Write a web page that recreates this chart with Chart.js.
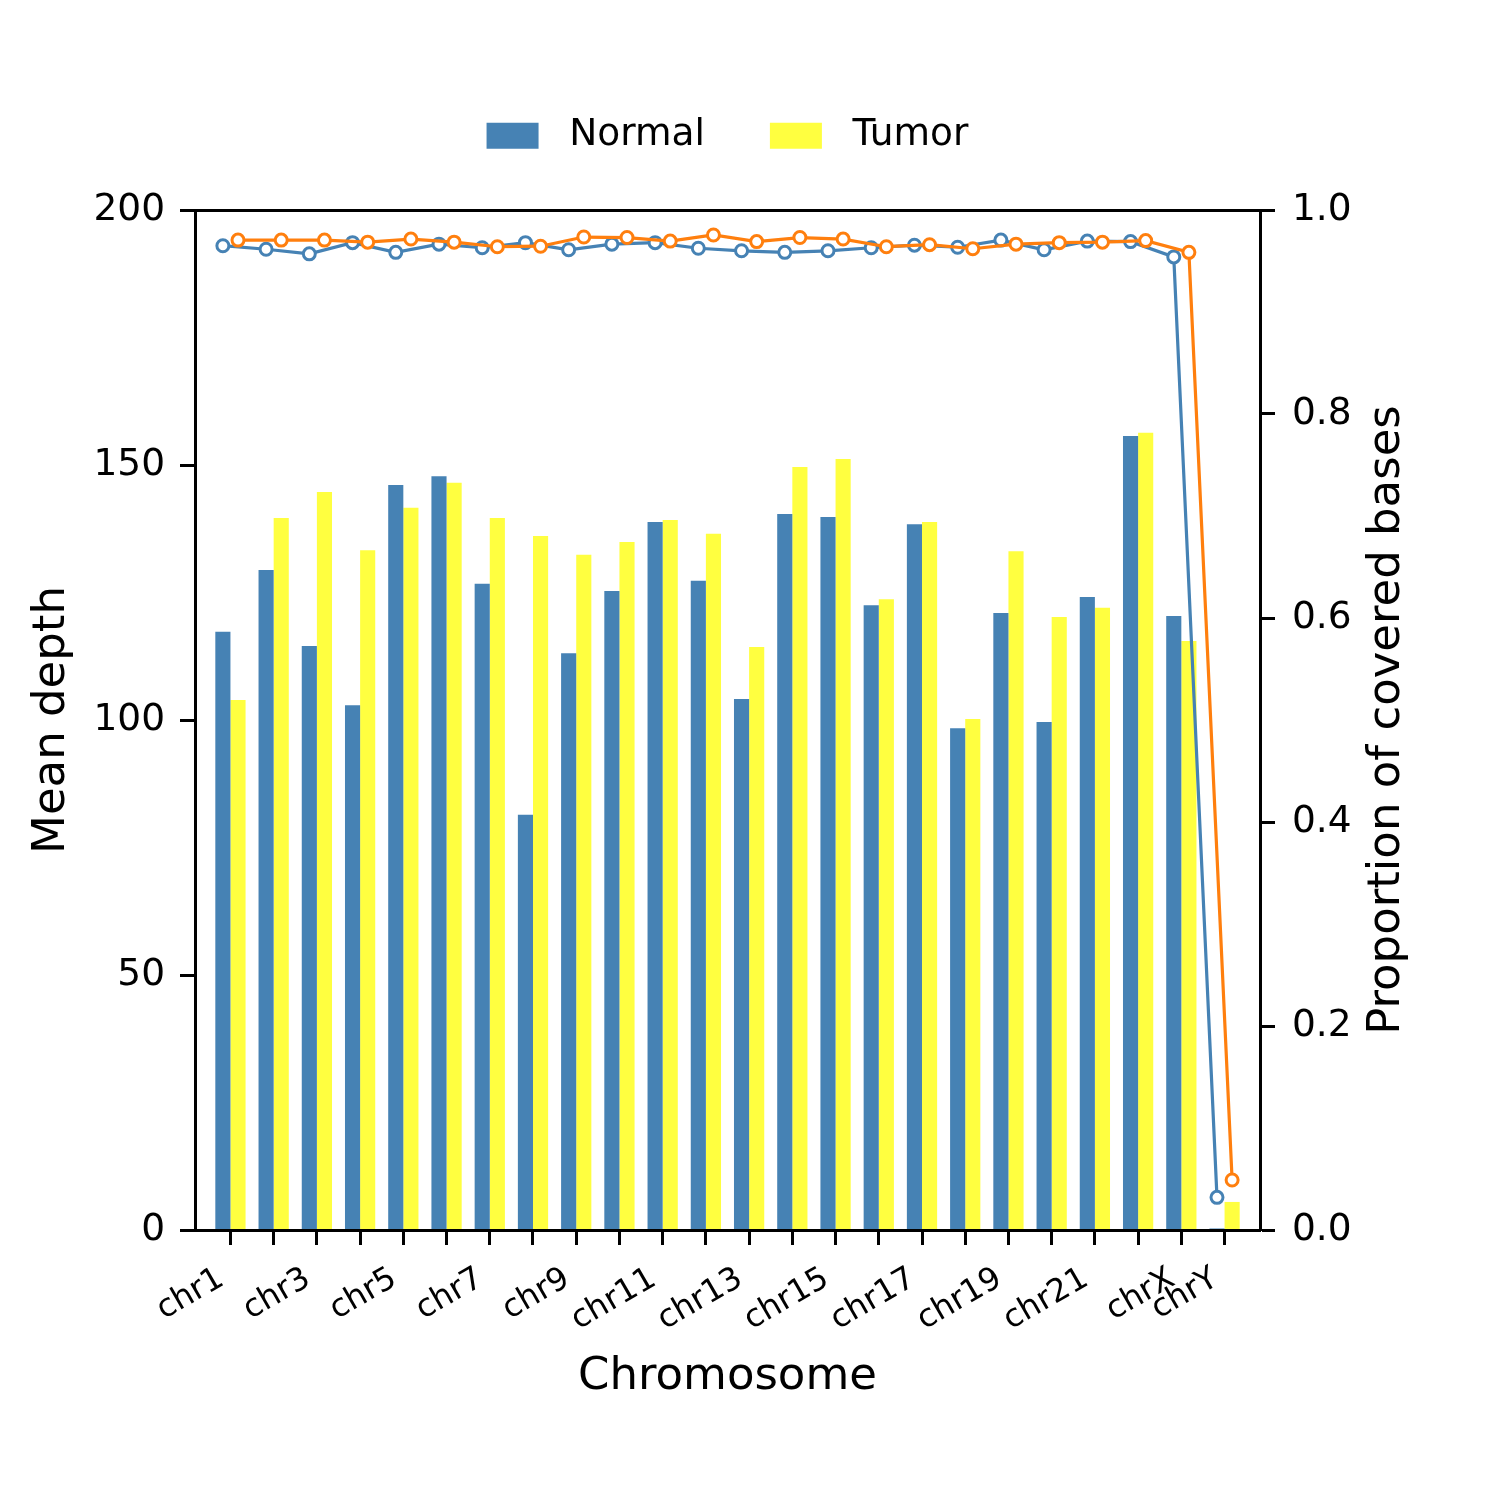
<!DOCTYPE html>
<html>
<head>
<meta charset="utf-8">
<script src="https://cdn.jsdelivr.net/npm/chart.js@4.4.1/dist/chart.umd.min.js"></script>
<style>
  html, body { margin: 0; padding: 0; background: #fff; }
  #wrap { width: 1500px; height: 1500px; }
</style>
</head>
<body>
<div id="wrap"><canvas id="depthChart" width="1500" height="1500"></canvas></div>
<script>
// chromosome names, one group of bars per entry
var chromosomes = ['chr1', 'chr2', 'chr3', 'chr4', 'chr5', 'chr6', 'chr7', 'chr8', 'chr9', 'chr10',
  'chr11', 'chr12', 'chr13', 'chr14', 'chr15', 'chr16', 'chr17', 'chr18', 'chr19', 'chr20',
  'chr21', 'chr22', 'chrX', 'chrY'];

// mean depth (left axis)
var normalDepth = [117.3, 129.4, 114.5, 102.9, 146.1, 147.8, 126.7, 81.4, 113.1, 125.3,
  138.8, 127.3, 104.1, 140.4, 139.8, 122.5, 138.4, 98.4, 121.0, 99.6,
  124.1, 155.7, 120.4, 0.3];
var tumorDepth = [103.9, 139.6, 144.7, 133.3, 141.6, 146.5, 139.6, 136.1, 132.4, 134.9,
  139.2, 136.5, 114.3, 149.6, 151.2, 123.7, 138.8, 100.2, 133.1, 120.2,
  122.0, 156.3, 115.5, 5.5];

// proportion of covered bases (right axis)
var normalCoverage = [0.965, 0.9615, 0.957, 0.968, 0.9585, 0.9665, 0.963, 0.968, 0.961, 0.9665,
  0.968, 0.9625, 0.960, 0.9585, 0.960, 0.963, 0.9655, 0.9635, 0.9705, 0.961,
  0.9695, 0.969, 0.954, 0.032];
var tumorCoverage = [0.9705, 0.9705, 0.9705, 0.9685, 0.9715, 0.9685, 0.964, 0.9645, 0.9735, 0.973,
  0.9695, 0.9755, 0.969, 0.973, 0.9715, 0.964, 0.966, 0.962, 0.9665, 0.968,
  0.9685, 0.97, 0.9585, 0.049];

var depthTicks = [0, 50, 100, 150, 200];
var coverageTicks = [0, 0.2, 0.4, 0.6, 0.8, 1.0];

var BLUE = '#4682b4';
var YELLOW = '#ffff40';
var ORANGE = '#ff7f0e';

Chart.defaults.font.family = "'DejaVu Sans', sans-serif";
Chart.defaults.color = '#000';

var tickFont = { size: 37.5 };
var xTickFont = { size: 32 };
var titleFont = { size: 45, lineHeight: 1 };
var topPad = 52;

// line points sit over the middle of their own bar
var barHalf = 0.175;

function toPoints(values, shift) {
  return values.map(function (v, i) { return { x: i + shift, y: v }; });
}

// right axis title reads bottom-to-top like the left one
var rightTitle = {
  id: 'rightTitle',
  afterDraw: function (chart) {
    var area = chart.chartArea;
    var ctx = chart.ctx;
    ctx.save();
    ctx.font = "45px 'DejaVu Sans'";
    ctx.fillStyle = '#000';
    ctx.textAlign = 'center';
    ctx.textBaseline = 'middle';
    ctx.translate(chart.scales.y1.right - 113, (area.top + area.bottom) / 2);
    ctx.rotate(-Math.PI / 2);
    ctx.fillText('Proportion of covered bases', 0, 0);
    ctx.restore();
  }
};

var tickGrid = { display: true, offset: false, drawOnChartArea: false, drawTicks: true, tickLength: 15, tickWidth: 3, tickColor: '#000' };
var axisBorder = { display: true, color: '#000', width: 3, z: 1 };

var config = {
  type: 'bar',
  data: {
    datasets: [{
      type: 'bar',
      label: 'Normal',
      data: toPoints(normalDepth, 0),
      backgroundColor: BLUE,
      borderWidth: 0,
      xAxisID: 'x',
      yAxisID: 'y',
      barPercentage: 1.0,
      categoryPercentage: 0.7,
      order: 3
    }, {
      type: 'bar',
      label: 'Tumor',
      data: toPoints(tumorDepth, 0),
      backgroundColor: YELLOW,
      borderWidth: 0,
      xAxisID: 'x',
      yAxisID: 'y',
      barPercentage: 1.0,
      categoryPercentage: 0.7,
      order: 3
    }, {
      type: 'line',
      label: 'Normal coverage',
      data: toPoints(normalCoverage, -barHalf),
      borderColor: BLUE,
      borderWidth: 3.2,
      pointRadius: 6,
      pointBorderWidth: 3,
      pointBackgroundColor: '#fff',
      pointBorderColor: BLUE,
      tension: 0,
      fill: false,
      xAxisID: 'x',
      yAxisID: 'y1',
      order: 1
    }, {
      type: 'line',
      label: 'Tumor coverage',
      data: toPoints(tumorCoverage, barHalf),
      borderColor: ORANGE,
      borderWidth: 3.2,
      pointRadius: 6,
      pointBorderWidth: 3,
      pointBackgroundColor: '#fff',
      pointBorderColor: ORANGE,
      tension: 0,
      fill: false,
      xAxisID: 'x',
      yAxisID: 'y1',
      order: 0
    }]
  },
  options: {
    responsive: false,
    animation: false,
    devicePixelRatio: 1,
    layout: { padding: { top: topPad, left: 0, right: 0, bottom: 0 } },
    plugins: {
      tooltip: { enabled: false },
      legend: {
        position: 'top',
        fullSize: false,
        labels: {
          boxWidth: 52,
          boxHeight: 26,
          padding: 65,
          font: { size: 37.5 },
          color: '#000',
          filter: function (item) { return item.datasetIndex < 2; },
          generateLabels: function (chart) {
            // a little more room between the swatch and its name
            return Chart.defaults.plugins.legend.labels.generateLabels(chart).map(function (item) {
              item.text = ' ' + item.text;
              return item;
            });
          }
        }
      }
    },
    scales: {
      x: {
        type: 'linear',
        position: 'bottom',
        offset: false,
        min: -0.82,
        max: chromosomes.length - 1 + 0.82,
        afterBuildTicks: function (axis) {
          axis.ticks = chromosomes.map(function (c, i) { return { value: i }; });
        },
        afterFit: function (axis) { axis.height = 270; },
        ticks: {
          autoSkip: false,
          minRotation: 30,
          maxRotation: 30,
          padding: 15,
          labelOffset: -9,
          font: xTickFont,
          callback: function (value) {
            var i = Math.round(value);
            return (i % 2 === 0 || i === chromosomes.length - 1) ? chromosomes[i] : '';
          }
        },
        grid: tickGrid,
        border: axisBorder,
        title: { display: true, text: 'Chromosome', font: titleFont, padding: { top: 0, bottom: 100 } }
      },
      xTop: {
        type: 'linear',
        position: 'top',
        offset: false,
        min: 0,
        max: 1,
        afterFit: function (axis) {
          var legendH = axis.chart.legend ? axis.chart.legend.height : 0;
          axis.height = Math.max(0, 210 - topPad - legendH);
        },
        ticks: { display: false },
        grid: { display: false, drawTicks: false },
        border: axisBorder
      },
      y: {
        type: 'linear',
        position: 'left',
        min: 0,
        max: 200,
        afterBuildTicks: function (axis) {
          axis.ticks = depthTicks.map(function (v) { return { value: v }; });
        },
        afterFit: function (axis) { axis.width = 195; },
        ticks: { padding: 15, font: tickFont },
        grid: tickGrid,
        border: axisBorder,
        title: { display: true, text: 'Mean depth', font: titleFont, padding: { top: 29.5, bottom: 0 } }
      },
      y1: {
        type: 'linear',
        position: 'right',
        min: 0,
        max: 1,
        afterBuildTicks: function (axis) {
          axis.ticks = coverageTicks.map(function (v) { return { value: v }; });
        },
        afterFit: function (axis) { axis.width = 240; },
        ticks: {
          padding: 17,
          font: tickFont,
          callback: function (value) { return Number(value).toFixed(1); }
        },
        grid: tickGrid,
        border: axisBorder
      }
    }
  },
  plugins: [rightTitle]
};

var ctx = document.getElementById('depthChart');
if (ctx) {
  ctx = ctx.getContext('2d');
  window.depthChart = new Chart(ctx, config);
}
</script>
</body>
</html>
